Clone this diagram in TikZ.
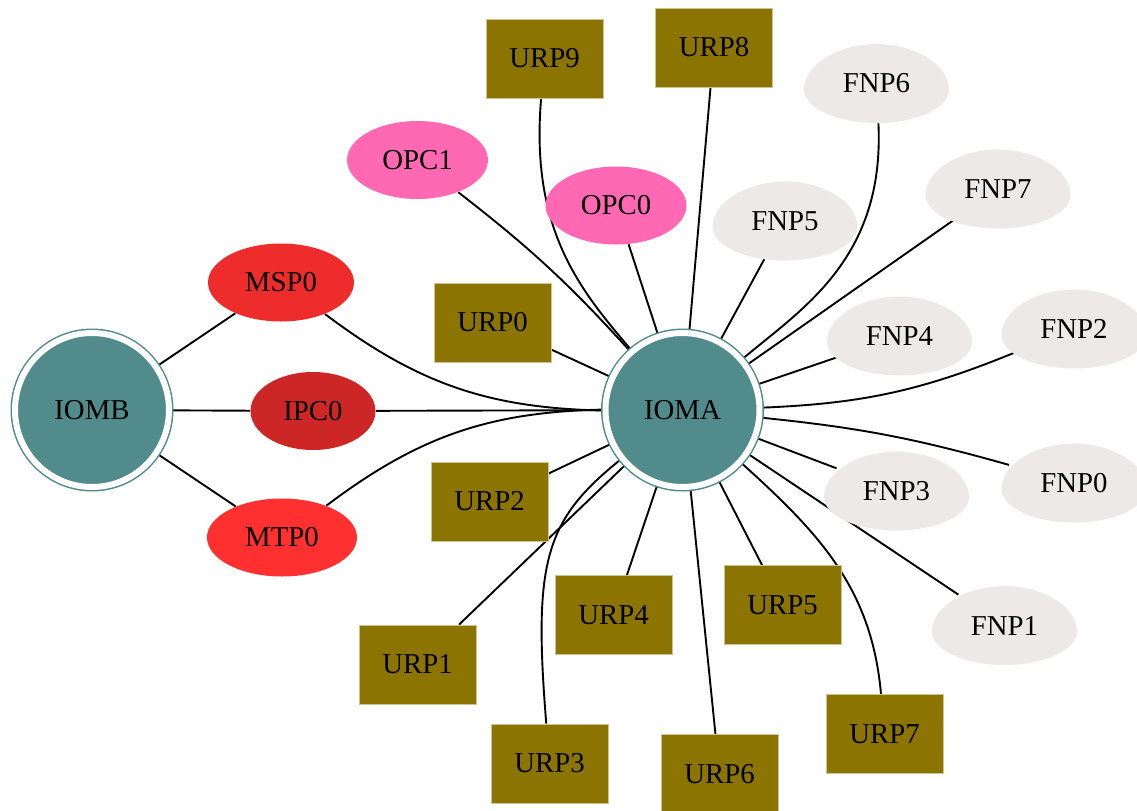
\documentclass[tikz,border=0pt]{standalone}
\usepackage{fontspec}
\setmainfont{Liberation Serif}
\usepackage{tikz}
\usetikzlibrary{shapes,backgrounds}

\definecolor{slate}{HTML}{528B8B}
\definecolor{ipcred}{HTML}{CD2626}
\definecolor{mspred}{HTML}{EE2C2C}
\definecolor{mtpred}{HTML}{FF3030}
\definecolor{opcpink}{HTML}{FF69B4}
\definecolor{urpgold}{HTML}{8B7500}
\definecolor{urpline}{HTML}{CFC394}
\definecolor{fnpgrey}{HTML}{EEE9E9}

\tikzset{
  io/.style={circle, fill=slate, draw=slate, double=white, double distance=3pt,
    line width=0.75pt, minimum size=77pt, inner sep=0pt},
  oval/.style={ellipse, minimum width=71pt, minimum height=39pt, inner sep=0pt},
  urp/.style={rectangle, fill=urpgold, draw=urpline, line width=0.4pt,
    minimum width=58.5pt, minimum height=39.5pt, inner sep=0pt},
  fnp/.style={ellipse, minimum width=72.5pt, minimum height=39.5pt, inner sep=0pt},
  eggfill/.style={fill=fnpgrey},
  link/.style={line width=0.95pt}
}

% egg shaped FNP node: name, x, y, label
\newcommand{\eggnode}[4]{%
\fill[eggfill] (#2,#3) ++(72.5,-6) .. controls +(0,-18.5) and +(40,0) .. ++(-72.5,-33.5)
  .. controls +(-40,0) and +(0,-18.5) .. ++(-72.5,33.5)
  .. controls +(0,25.1) and +(-38,0) .. ++(72.5,45.5)
  .. controls +(38,0) and +(0,25.1) .. ++(72.5,-45.5) -- cycle;
\node (#1) at (#2,#3)[fnp] {#4};}

\begin{document}
\begin{tikzpicture}
[x=0.5pt, y=0.5pt,
			font=\fontsize{14.4}{17}\selectfont]
\useasboundingbox (0,0) rectangle (1137,-810);

\node (iomb) at (92,-410)[io] {IOMB};
\node (ioma) at (682.5,-410)[io] {IOMA};

\node (ipc0) at (313,-411)[oval,fill=ipcred,minimum width=62.5pt] {IPC0};
\node (msp0) at (281,-282.5)[oval,fill=mspred,minimum width=73pt] {MSP0};
\node (mtp0) at (282,-537.5)[oval,fill=mtpred,minimum width=75pt] {MTP0};

\node (opc1) at (417.5,-160)[oval,fill=opcpink,minimum width=70.5pt] {OPC1};
\node (opc0) at (616,-205.5)[oval,fill=opcpink,minimum width=70.5pt] {OPC0};

\node (urp9) at (544.5,-58.5)[urp] {URP9};
\node (urp8) at (714,-47.5)[urp] {URP8};
\node (urp0) at (492.5,-322.5)[urp] {URP0};
\node (urp2) at (489.5,-501.5)[urp] {URP2};
\node (urp1) at (417.5,-664.5)[urp] {URP1};
\node (urp4) at (613.5,-615)[urp] {URP4};
\node (urp3) at (549.5,-763.5)[urp] {URP3};
\node (urp6) at (719.5,-774)[urp] {URP6};
\node (urp5) at (782.5,-605)[urp] {URP5};
\node (urp7) at (884.5,-734)[urp] {URP7};

\eggnode{fnp6}{876.5}{-83.5}{FNP6}
\eggnode{fnp7}{998}{-189}{FNP7}
\eggnode{fnp5}{785}{-221}{FNP5}
\eggnode{fnp4}{899.5}{-336}{FNP4}
\eggnode{fnp2}{1074}{-329}{FNP2}
\eggnode{fnp3}{896.5}{-491}{FNP3}
\eggnode{fnp0}{1074}{-483}{FNP0}
\eggnode{fnp1}{1004.5}{-625.5}{FNP1}

\begin{scope}[on background layer]
\begin{scope}[link]
\draw (iomb) edge (msp0);
\draw (iomb) edge (ipc0);
\draw (iomb) edge (mtp0);

\draw (msp0) edge [bend right=18] (ioma);
\draw (ipc0) edge (ioma);
\draw (mtp0) edge [bend left=18] (ioma);

\draw (urp0) edge (ioma);
\draw (opc1) edge [bend left=5] (ioma);
\draw (urp9) .. controls (530,-230) and (580,-290) .. (ioma);
\draw (opc0) edge (ioma);
\draw (urp8) edge (ioma);
\draw (urp2) edge (ioma);
\draw (urp1) edge (ioma);
\draw (urp3) .. controls (533,-560) and (545,-520) .. (ioma);
\draw (urp4) edge (ioma);
\draw (urp6) edge (ioma);
\draw (urp5) edge (ioma);
\draw (urp7) edge [out=95,in=-42] (ioma);

\draw (fnp5) edge (ioma);
\draw (fnp6) .. controls (885,-260) and (800,-310) .. (ioma);
\draw (fnp7) edge (ioma);
\draw (fnp4) edge (ioma);
\draw (fnp2) edge [bend left=10] (ioma);
\draw (fnp0) edge [bend right=5] (ioma);
\draw (fnp3) edge (ioma);
\draw (fnp1) edge (ioma);
\end{scope}
\end{scope}

\end{tikzpicture}
\end{document}
